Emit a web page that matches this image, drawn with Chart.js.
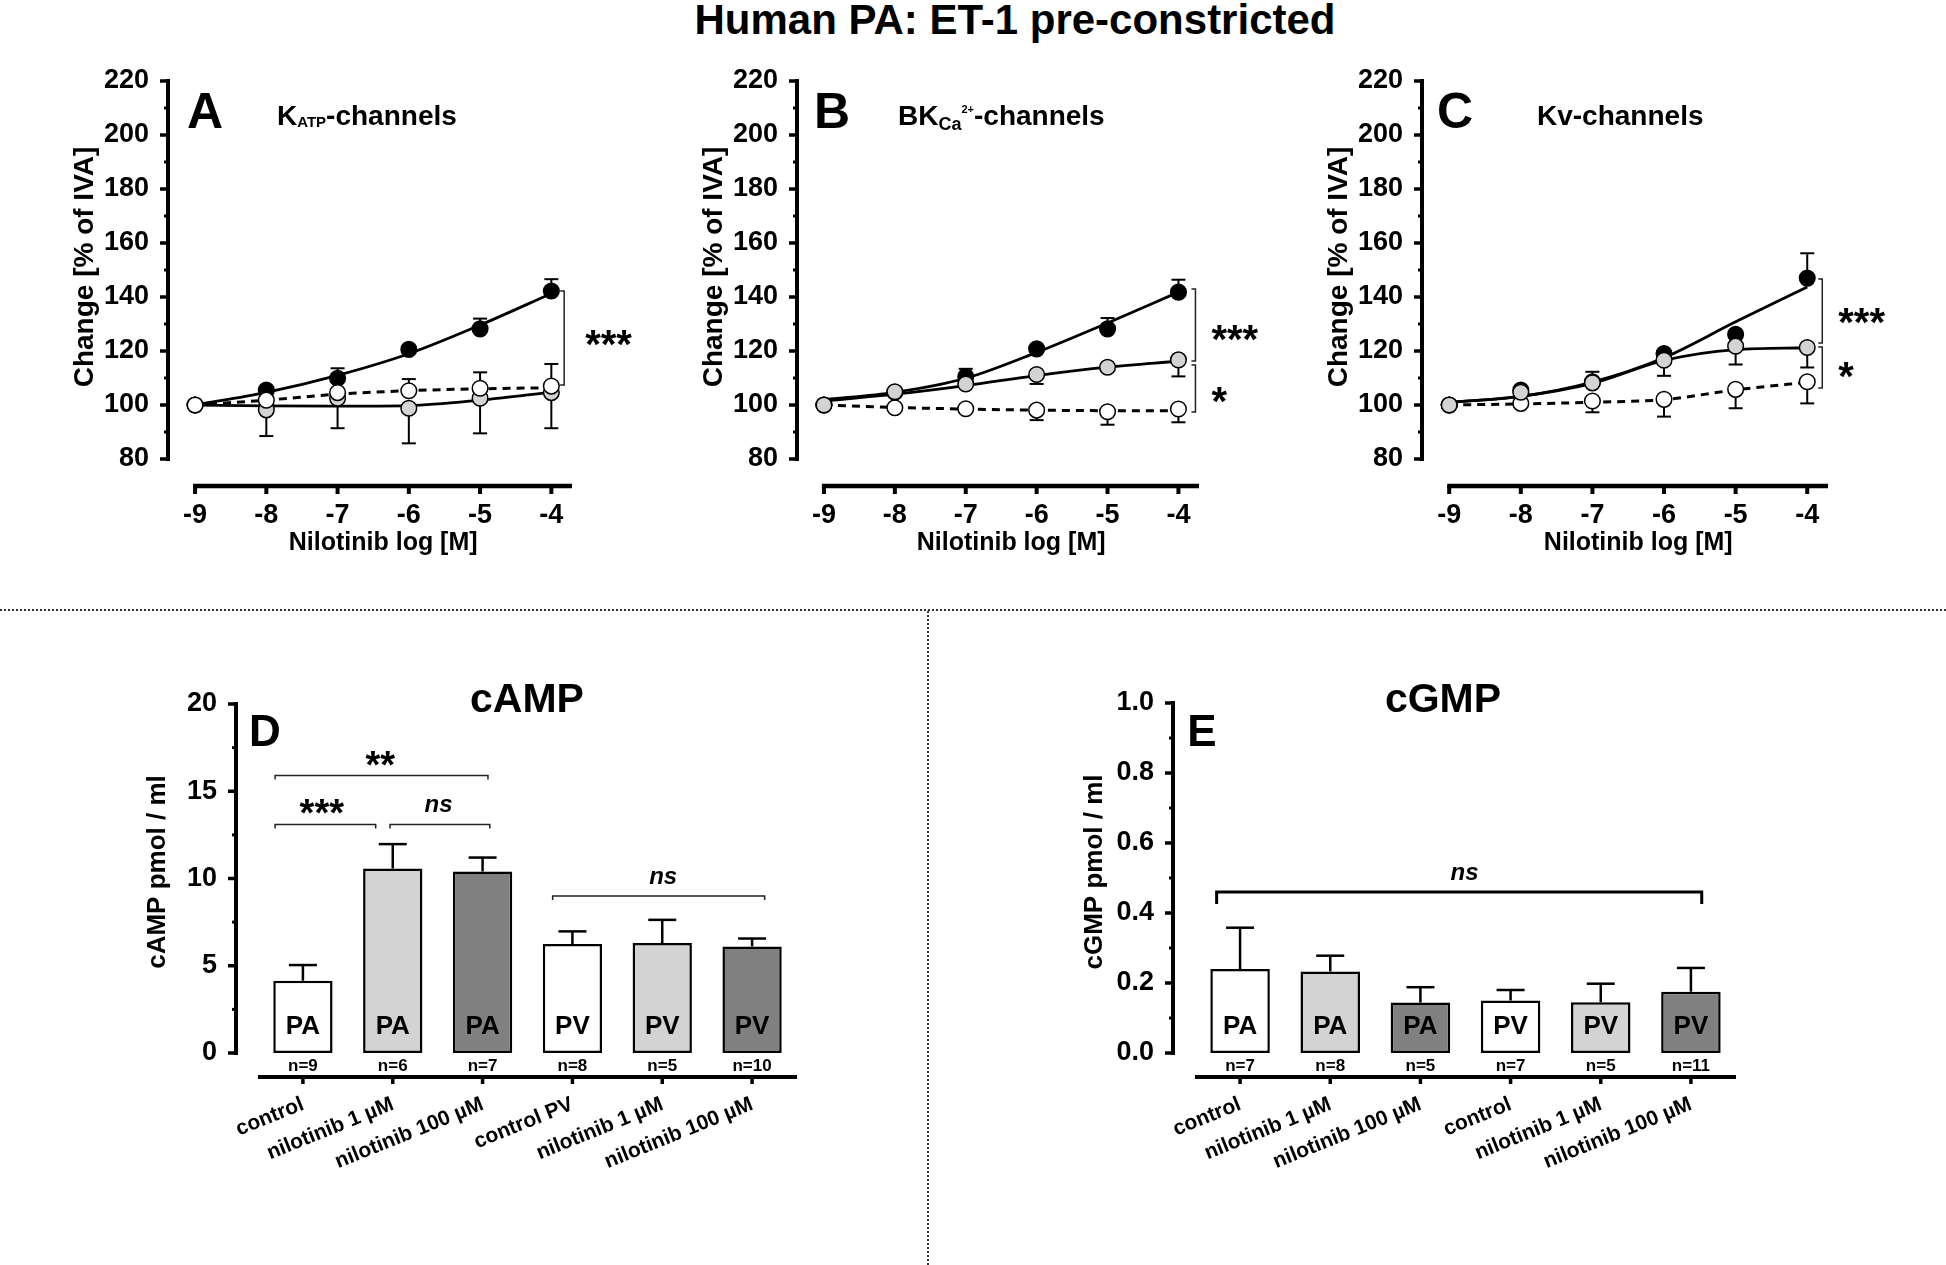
<!DOCTYPE html>
<html>
<head>
<meta charset="utf-8">
<script src="https://cdn.jsdelivr.net/npm/chart.js@4.4.0/dist/chart.umd.min.js"></script>
<style>
  body { margin: 0; background: #fff; width: 1946px; height: 1265px; overflow: hidden; position: relative;
         font-family: "Liberation Sans", Arial, sans-serif; }
  canvas { position: absolute; left: 0; top: 0; }
  #title { position: absolute; left: 1015px; top: -1px; transform: translateX(-50%); white-space: nowrap;
           font-weight: bold; font-size: 42px; line-height: 42px; }
  .hdiv { position: absolute; left: 0; top: 609px; width: 1946px; border-top: 2px dotted #333; }
  .vdiv { position: absolute; left: 927px; top: 611px; height: 654px; border-left: 2px dotted #333; }
</style>
</head>
<body>
<div id="title">Human PA: ET-1 pre-constricted</div>
<div class="hdiv"></div>
<div class="vdiv"></div>
<canvas id="cA" width="1946" height="1265"></canvas>
<canvas id="cB" width="1946" height="1265"></canvas>
<canvas id="cC" width="1946" height="1265"></canvas>
<canvas id="cD" width="1946" height="1265"></canvas>
<canvas id="cE" width="1946" height="1265"></canvas>
<script>
// ---- data ----
const logConc = [-9, -8, -7, -6, -5, -4];
const lineYTicks = [80, 100, 120, 140, 160, 180, 200, 220];

// A: KATP-channels
const aBlack = [100, 105.5, 109.9, 120.6, 128.2, 142.2];
const aBlackErr = [null, null, 113.6, null, 132.0, 146.6];
const aBlackFit = [100, 104.7, 111.0, 119.0, 129.6, 141.3];
const aGray = [100, 98.2, 102.5, 98.8, 102.5, 104.6];
const aGrayErr = [null, 88.5, 91.4, 85.8, 89.5, 91.4];
const aGrayFit = [100, 99.7, 99.6, 99.8, 101.8, 104.8];
const aWhite = [100, 101.8, 104.6, 105.3, 106.2, 107.0];
const aWhiteErr = [null, null, null, 109.6, 112.1, 115.2];
const aWhiteFit = [100, 101.8, 104.0, 105.3, 106.0, 106.4];

// B: BKCa2+-channels
const bBlack = [100, 104.7, 110.5, 120.8, 128.2, 141.8];
const bBlackErr = [null, null, 113.4, null, 132.2, 146.4];
const bBlackFit = [102, 104.7, 109.9, 119.5, 130.4, 141.8];
const bGray = [100, 104.9, 107.8, 111.3, 114.0, 116.7];
const bGrayErr = [null, null, null, 107.8, null, 110.6];
const bGrayFit = [101.5, 104.0, 107.2, 110.9, 114.0, 116.2];
const bWhite = [100, 99.0, 98.6, 98.1, 97.5, 98.5];
const bWhiteErr = [null, null, null, 94.4, 92.7, 93.6];
const bWhiteFit = [100, 99.1, 98.5, 98.1, 97.9, 97.9];

// C: Kv-channels
const cBlack = [100, 105.5, 108.6, 119.1, 126.2, 147.0];
const cBlackErr = [null, null, 112.3, null, null, 156.2];
const cBlackFit = [101, 103.2, 108.5, 117.5, 130.8, 143.7];
const cGray = [100, 104.7, 108.2, 116.6, 121.8, 121.3];
const cGrayErr = [null, null, null, 110.8, 115.0, 113.9];
const cGrayFit = [101, 103.2, 108.0, 116.5, 120.5, 121.2];
const cWhite = [100, 100.6, 101.5, 102.1, 105.8, 108.6];
const cWhiteErr = [null, null, 97.3, 95.7, 98.8, 100.6];
const cWhiteFit = [100, 100.4, 101.0, 102.0, 105.6, 108.4];

// D: cAMP
const cAMPcats = ['control', 'nilotinib 1 µM', 'nilotinib 100 µM', 'control PV', 'nilotinib 1 µM', 'nilotinib 100 µM'];
const cAMPmean = [4.14, 10.57, 10.40, 6.24, 6.30, 6.11];
const cAMPerr = [5.04, 11.97, 11.20, 6.97, 7.63, 6.56];
const cAMPn = ['n=9', 'n=6', 'n=7', 'n=8', 'n=5', 'n=10'];
const cAMPticks = [0, 5, 10, 15, 20];

// E: cGMP
const cGMPcats = ['control', 'nilotinib 1 µM', 'nilotinib 100 µM', 'control', 'nilotinib 1 µM', 'nilotinib 100 µM'];
const cGMPmean = [0.240, 0.233, 0.144, 0.150, 0.145, 0.175];
const cGMPerr = [0.358, 0.278, 0.188, 0.180, 0.198, 0.243];
const cGMPn = ['n=7', 'n=8', 'n=5', 'n=7', 'n=5', 'n=11'];
const cGMPticks = [0, 0.2, 0.4, 0.6, 0.8, 1.0];

const vesselTags = ['PA', 'PA', 'PA', 'PV', 'PV', 'PV'];
const barFills = ['#ffffff', '#d3d3d3', '#808080', '#ffffff', '#d3d3d3', '#808080'];

// ---- helpers ----
const W = 1946, H = 1265;
const FAM = '"Liberation Sans", Arial, sans-serif';
const font = (size, style) => (style || 'bold') + ' ' + size + 'px ' + FAM;

Chart.defaults.font.family = FAM;
Chart.defaults.font.weight = 'bold';
Chart.defaults.color = '#000';
Chart.defaults.animation = false;
Chart.defaults.plugins.legend.display = false;
Chart.defaults.plugins.tooltip.enabled = false;

function drawText(ctx, s, x, y, f, align, base, rot) {
  ctx.save();
  ctx.translate(x, y);
  if (rot) ctx.rotate(rot);
  ctx.font = f;
  ctx.fillStyle = '#000';
  ctx.textAlign = align || 'center';
  ctx.textBaseline = base || 'middle';
  ctx.fillText(s, 0, 0);
  ctx.restore();
}

function stroke(ctx, pts, w, color) {
  ctx.save();
  ctx.beginPath();
  ctx.lineWidth = w;
  ctx.strokeStyle = color || '#000';
  ctx.moveTo(pts[0], pts[1]);
  for (let i = 2; i < pts.length; i += 2) ctx.lineTo(pts[i], pts[i + 1]);
  ctx.stroke();
  ctx.restore();
}

// runs of [text, size, dy] drawn left to right
function drawRuns(ctx, runs, x, y) {
  let cx = x;
  runs.forEach(r => {
    ctx.save();
    ctx.font = font(r[1]);
    ctx.fillStyle = '#000';
    ctx.textAlign = 'left';
    ctx.textBaseline = 'alphabetic';
    ctx.fillText(r[0], cx, y + (r[2] || 0));
    cx += ctx.measureText(r[0]).width;
    ctx.restore();
  });
}

// ---- concentration-response panels ----
function lineChart(cfg) {
  const datasets = [];
  cfg.series.forEach((s, k) => {
    datasets.push({
      data: logConc.map((x, i) => ({ x: x, y: s.fit[i] })),
      borderColor: '#000', borderWidth: s.dashed ? 3 : 2.8, borderDash: s.dashed ? [8, 6] : [],
      pointRadius: 0, cubicInterpolationMode: 'monotone', order: 20 + k, clip: false
    });
    datasets.push({
      data: logConc.map((x, i) => ({ x: x, y: s.vals[i] })),
      showLine: false, pointRadius: 7.8, pointHoverRadius: 7.8,
      pointBackgroundColor: s.fill, pointBorderColor: '#000', pointBorderWidth: 1.5,
      order: s.layer, clip: false, err: s.err, vals: s.vals
    });
  });

  const plugin = {
    id: 'panel' + cfg.letter,
    beforeDatasetsDraw(chart) {
      const ctx = chart.ctx, ca = chart.chartArea;
      const xs = chart.scales.x, ys = chart.scales.y;
      // y axis with minor ticks
      stroke(ctx, [ca.left, ys.getPixelForValue(220) - 2, ca.left, ys.getPixelForValue(80) + 2], 4);
      lineYTicks.forEach(v => {
        const py = ys.getPixelForValue(v);
        stroke(ctx, [ca.left, py, ca.left - 8, py], 3.5);
        if (v < 220) {
          const pm = ys.getPixelForValue(v + 10);
          stroke(ctx, [ca.left, pm, ca.left - 4, pm], 3);
        }
      });
      // offset x axis
      const ya = ca.bottom + 27;
      stroke(ctx, [xs.getPixelForValue(-9) - 2, ya, ca.right, ya], 4.5);
      logConc.forEach(v => {
        const px = xs.getPixelForValue(v);
        stroke(ctx, [px, ya, px, ya + 8], 4);
      });
      // error bars
      chart.data.datasets.forEach(ds => {
        if (!ds.err) return;
        ds.err.forEach((e, i) => {
          if (e === null) return;
          const px = xs.getPixelForValue(logConc[i]);
          const p0 = ys.getPixelForValue(ds.vals[i]);
          const p1 = ys.getPixelForValue(e);
          stroke(ctx, [px, p0, px, p1], 2);
          stroke(ctx, [px - 7, p1, px + 7, p1], 2);
        });
      });
    },
    afterDraw(chart) {
      const ctx = chart.ctx, ca = chart.chartArea;
      const xs = chart.scales.x, ys = chart.scales.y;
      // panel letter and heading
      drawText(ctx, cfg.letter, ca.left + cfg.letterDx, 128, font(50), 'center', 'alphabetic');
      drawRuns(ctx, cfg.heading, ca.left + cfg.headDx, 125);
      // axis titles
      drawText(ctx, 'Change [% of IVA]', ca.left - 83, 267, font(28), 'center', 'middle', -Math.PI / 2);
      drawText(ctx, 'Nilotinib log [M]', xs.getPixelForValue(-6.36), 543, font(25), 'center', 'middle');
      // significance brackets
      cfg.sig.forEach(b => {
        const px = xs.getPixelForValue(b.x);
        const p1 = ys.getPixelForValue(b.from), p2 = ys.getPixelForValue(b.to);
        stroke(ctx, [px - 4, p1, px, p1, px, p2, px - 4, p2], 1.5, '#222');
        const mid = (p1 + p2) / 2;
        drawText(ctx, b.mark, px + b.gap, mid + 22 + b.dy, font(40), 'left', 'alphabetic');
      });
    }
  };

  return new Chart(document.getElementById(cfg.id), {
    type: 'line',
    data: { datasets: datasets },
    options: {
      responsive: false,
      layout: { padding: { left: cfg.left - 110, right: W - cfg.right, top: 81, bottom: H - 459 - 100 } },
      scales: {
        x: {
          type: 'linear', min: -9.38, max: -3.71,
          afterBuildTicks: s => { s.ticks = logConc.map(v => ({ value: v })); },
          afterFit: s => { s.height = 100; },
          grid: { display: false }, border: { display: false },
          ticks: { padding: 32, font: { size: 27, weight: 'bold' }, callback: v => String(v) }
        },
        y: {
          min: 80, max: 220,
          afterFit: s => { s.width = 110; },
          grid: { display: false }, border: { display: false },
          ticks: { stepSize: 20, padding: 11, font: { size: 27, weight: 'bold' } }
        }
      }
    },
    plugins: [plugin]
  });
}

lineChart({
  id: 'cA', letter: 'A', left: 168, right: 572, letterDx: 37, headDx: 109,
  heading: [['K', 28], ['ATP', 15, 2], ['-channels', 28]],
  series: [
    { vals: aBlack, err: aBlackErr, fit: aBlackFit, fill: '#000000', layer: 3 },
    { vals: aGray, err: aGrayErr, fit: aGrayFit, fill: '#d3d3d3', layer: 2 },
    { vals: aWhite, err: aWhiteErr, fit: aWhiteFit, fill: '#ffffff', layer: 1, dashed: true }
  ],
  sig: [{ x: -3.82, from: 142.2, to: 107.4, mark: '***', gap: 21, dy: -2 }]
});

lineChart({
  id: 'cB', letter: 'B', left: 797, right: 1199, letterDx: 35, headDx: 101,
  heading: [['BK', 28], ['Ca', 18, 5], ['2+', 11, -12], ['-channels', 28]],
  series: [
    { vals: bBlack, err: bBlackErr, fit: bBlackFit, fill: '#000000', layer: 2 },
    { vals: bGray, err: bGrayErr, fit: bGrayFit, fill: '#d3d3d3', layer: 1 },
    { vals: bWhite, err: bWhiteErr, fit: bWhiteFit, fill: '#ffffff', layer: 3, dashed: true }
  ],
  sig: [
    { x: -3.76, from: 143.0, to: 116.3, mark: '***', gap: 16, dy: 6 },
    { x: -3.76, from: 114.8, to: 97.4, mark: '*', gap: 16, dy: 4 }
  ]
});

lineChart({
  id: 'cC', letter: 'C', left: 1422, right: 1828, letterDx: 33, headDx: 115,
  heading: [['Kv-channels', 28]],
  series: [
    { vals: cBlack, err: cBlackErr, fit: cBlackFit, fill: '#000000', layer: 2 },
    { vals: cGray, err: cGrayErr, fit: cGrayFit, fill: '#d3d3d3', layer: 1 },
    { vals: cWhite, err: cWhiteErr, fit: cWhiteFit, fill: '#ffffff', layer: 3, dashed: true }
  ],
  sig: [
    { x: -3.79, from: 146.7, to: 123.0, mark: '***', gap: 16, dy: 3 },
    { x: -3.79, from: 121.5, to: 106.3, mark: '*', gap: 16, dy: 1 }
  ]
});

// ---- bar panels ----
function barChart(cfg) {
  const plugin = {
    id: 'bars' + cfg.letter,
    beforeDatasetsDraw(chart) {
      const ctx = chart.ctx, ca = chart.chartArea;
      const xs = chart.scales.x, ys = chart.scales.y;
      const ax = ca.left - 22;
      const t = cfg.ticks;
      stroke(ctx, [ax, ys.getPixelForValue(t[t.length - 1]) - 2, ax, ys.getPixelForValue(0) + 2], 4);
      const step = t[1] - t[0];
      t.forEach(v => {
        const py = ys.getPixelForValue(v);
        stroke(ctx, [ax, py, ax - 8, py], 3.5);
        if (v < t[t.length - 1] - 1e-9) {
          const pm = ys.getPixelForValue(v + step / 2);
          stroke(ctx, [ax, pm, ax - 4, pm], 3);
        }
      });
      const ya = ca.bottom + 24;
      stroke(ctx, [ca.left, ya, ca.right, ya], 4);
      cfg.cats.forEach((c, i) => {
        const px = xs.getPixelForValue(i);
        stroke(ctx, [px, ya, px, ya + 7], 3.5);
      });
    },
    afterDatasetsDraw(chart) {
      const ctx = chart.ctx, ca = chart.chartArea;
      const xs = chart.scales.x, ys = chart.scales.y;
      cfg.mean.forEach((m, i) => {
        const px = xs.getPixelForValue(i);
        const p0 = ys.getPixelForValue(m), p1 = ys.getPixelForValue(cfg.err[i]);
        stroke(ctx, [px, p0, px, p1], 2.5);
        stroke(ctx, [px - 14, p1, px + 14, p1], 2.5);
        drawText(ctx, vesselTags[i], px, ca.bottom - 26, font(26));
        drawText(ctx, cfg.n[i], px, ca.bottom + 13, font(17));
      });
    },
    afterDraw(chart) {
      const ctx = chart.ctx, ca = chart.chartArea;
      const xs = chart.scales.x, ys = chart.scales.y;
      drawText(ctx, cfg.letter, ca.left + cfg.letterDx, 746, font(44), 'center', 'alphabetic');
      drawText(ctx, cfg.title, ca.left + cfg.titleDx, 712, font(41), 'center', 'alphabetic');
      drawText(ctx, cfg.yTitle, ca.left + cfg.yTitleDx, 872, font(26), 'center', 'middle', -Math.PI / 2);
      cfg.sig.forEach(b => {
        const x1 = xs.getPixelForValue(b.from), x2 = xs.getPixelForValue(b.to);
        const py = ys.getPixelForValue(b.y);
        stroke(ctx, [x1, py + cfg.sigTick, x1, py, x2, py, x2, py + cfg.sigTick], cfg.sigWidth, cfg.sigColor);
        const tx = xs.getPixelForValue(b.tx), ty = ys.getPixelForValue(b.ty);
        if (b.mark === 'ns') drawText(ctx, 'ns', tx, ty + 7, font(24, 'italic bold'), 'center', 'alphabetic');
        else drawText(ctx, b.mark, tx, ty + 21, font(38), 'center', 'alphabetic');
      });
    }
  };

  return new Chart(document.getElementById(cfg.id), {
    type: 'bar',
    data: {
      labels: cfg.cats,
      datasets: [{
        data: cfg.mean, backgroundColor: barFills, borderColor: '#000', borderWidth: 2.5,
        borderSkipped: false, categoryPercentage: 0.66, barPercentage: 1.0
      }]
    },
    options: {
      responsive: false,
      layout: { padding: { left: cfg.left - 110, right: W - cfg.right, top: cfg.top, bottom: H - 1053 - 150 } },
      scales: {
        x: {
          afterFit: s => { s.height = 150; },
          grid: { display: false }, border: { display: false },
          ticks: { autoSkip: false, minRotation: 22, maxRotation: 22, padding: 31, font: { size: 21, weight: 'bold' } }
        },
        y: {
          min: 0, max: cfg.ticks[cfg.ticks.length - 1],
          afterFit: s => { s.width = 110; },
          afterBuildTicks: s => { s.ticks = cfg.ticks.map(v => ({ value: v })); },
          grid: { display: false }, border: { display: false },
          ticks: { padding: 33, font: { size: 27, weight: 'bold' }, callback: cfg.fmt }
        }
      }
    },
    plugins: [plugin]
  });
}

barChart({
  id: 'cD', letter: 'D', title: 'cAMP', yTitle: 'cAMP pmol / ml',
  left: 258, right: 797, top: 704, letterDx: 7, titleDx: 269, yTitleDx: -100,
  cats: cAMPcats, mean: cAMPmean, err: cAMPerr, n: cAMPn, ticks: cAMPticks,
  fmt: v => String(v),
  sigTick: 4, sigWidth: 1.5, sigColor: '#222',
  sig: [
    { from: -0.31, to: 2.06, y: 15.9, mark: '**', tx: 0.86, ty: 16.96 },
    { from: -0.31, to: 0.81, y: 13.1, mark: '***', tx: 0.21, ty: 14.2 },
    { from: 0.97, to: 2.08, y: 13.1, mark: 'ns', tx: 1.51, ty: 14.2 },
    { from: 2.78, to: 5.14, y: 9.0, mark: 'ns', tx: 4.01, ty: 10.09 }
  ]
});

barChart({
  id: 'cE', letter: 'E', title: 'cGMP', yTitle: 'cGMP pmol / ml',
  left: 1195, right: 1736, top: 703, letterDx: 7, titleDx: 248, yTitleDx: -100,
  cats: cGMPcats, mean: cGMPmean, err: cGMPerr, n: cGMPn, ticks: cGMPticks,
  fmt: v => v.toFixed(1),
  sigTick: 12, sigWidth: 3, sigColor: '#000',
  sig: [
    { from: -0.26, to: 5.12, y: 0.46, mark: 'ns', tx: 2.49, ty: 0.514 }
  ]
});
</script>
</body>
</html>
